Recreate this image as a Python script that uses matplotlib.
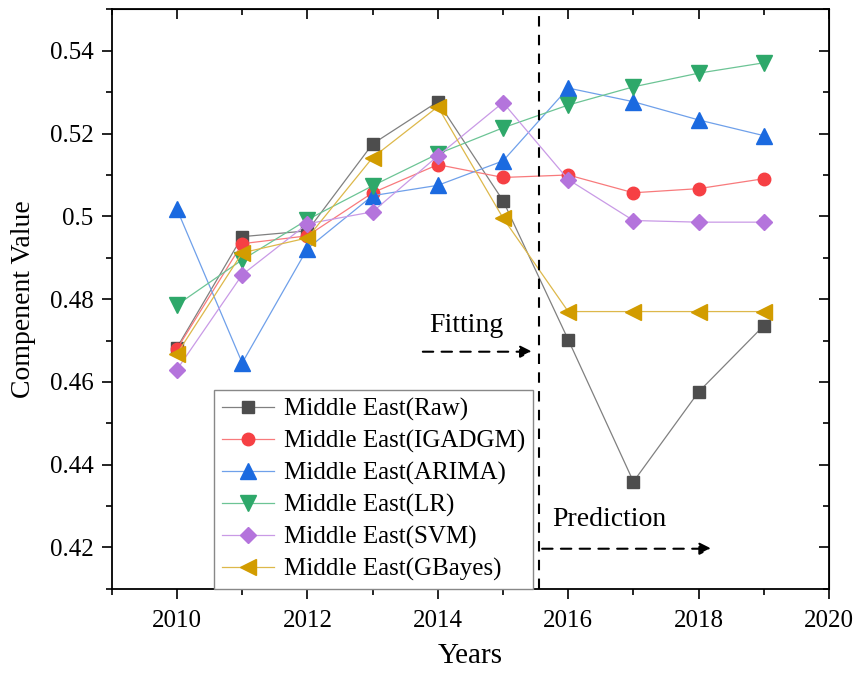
import matplotlib.pyplot as plt
from matplotlib.ticker import MultipleLocator

plt.rcParams['font.family'] = ['Liberation Serif', 'DejaVu Serif']
plt.rcParams['mathtext.fontset'] = 'stix'

years = [2010, 2011, 2012, 2013, 2014, 2015, 2016, 2017, 2018, 2019]

raw = [0.4683, 0.4951, 0.4965, 0.5175, 0.5277, 0.5038, 0.4702, 0.4359, 0.4576, 0.4736]
igadgm = [0.4680, 0.4934, 0.4953, 0.5057, 0.5125, 0.5094, 0.5100, 0.5057, 0.5067, 0.5091]
arima = [0.5017, 0.4646, 0.4922, 0.5050, 0.5075, 0.5134, 0.5310, 0.5277, 0.5233, 0.5195]
lr = [0.4786, 0.4895, 0.4992, 0.5074, 0.5151, 0.5214, 0.5269, 0.5313, 0.5346, 0.5371]
svm = [0.4630, 0.4859, 0.4982, 0.5011, 0.5146, 0.5275, 0.5089, 0.4990, 0.4986, 0.4986]
gbayes = [0.4668, 0.4912, 0.4948, 0.5142, 0.5265, 0.4996, 0.4770, 0.4770, 0.4770, 0.4770]

series = [
    ("Middle East(Raw)", raw, 's', '#4d4d4d', '#808080'),
    ("Middle East(IGADGM)", igadgm, 'o', '#f64044', '#f87a7c'),
    ("Middle East(ARIMA)", arima, '^', '#1b6ae0', '#6fa0ea'),
    ("Middle East(LR)", lr, 'v', '#2ea86a', '#6cc495'),
    ("Middle East(SVM)", svm, 'D', '#b474dc', '#c99ae6'),
    ("Middle East(GBayes)", gbayes, '<', '#d29c00', '#ddb84a'),
]

split = 2015.55

fig = plt.figure(figsize=(8.6, 6.73), dpi=100)
ax = fig.add_axes([0.130, 0.125, 0.834, 0.861])

for name, vals, mk, mc, lc in series:
    ms = 9 if mk in ('s', 'o') else (8 if mk == 'D' else 11)
    ax.plot(years, vals, color=lc, lw=0.9, marker=mk, markersize=ms,
            markerfacecolor=mc, markeredgecolor=mc, label=name)

ax.axvline(split, color='black', ls=(0, (5, 4)), lw=1.5, zorder=5)

ax.text(2014.43, 0.4705, "Fitting", ha='center', va='bottom', fontsize=20)
ax.annotate("", xy=(2015.45, 0.4673), xytext=(2013.77, 0.4673),
            arrowprops=dict(arrowstyle='-|>', color='black', lw=1.5,
                            ls=(0, (5, 4)), mutation_scale=18, shrinkA=0, shrinkB=0))
ax.text(2016.63, 0.4237, "Prediction", ha='center', va='bottom', fontsize=20)
ax.annotate("", xy=(2018.2, 0.4197), xytext=(2015.6, 0.4197),
            arrowprops=dict(arrowstyle='-|>', color='black', lw=1.5,
                            ls=(0, (5, 4)), mutation_scale=18, shrinkA=0, shrinkB=0))

ax.set_xlim(2009, 2020)
ax.set_ylim(0.41, 0.55)
ax.xaxis.set_major_locator(MultipleLocator(2))
ax.xaxis.set_minor_locator(MultipleLocator(1))
ax.yaxis.set_minor_locator(MultipleLocator(0.01))
ax.set_yticks([0.42, 0.44, 0.46, 0.48, 0.5, 0.52, 0.54])
ax.set_yticklabels(['0.42', '0.44', '0.46', '0.48', '0.5', '0.52', '0.54'])
ax.tick_params(which='major', direction='out', length=7, width=1.2, labelsize=18)
ax.tick_params(which='minor', direction='out', length=4, width=1.2)
ax.tick_params(axis='x', which='major', pad=8)
ax.tick_params(axis='y', which='major', pad=6)
for s in ax.spines.values():
    s.set_linewidth(1.3)

top = ax.secondary_xaxis('top')
top.xaxis.set_major_locator(MultipleLocator(2))
top.xaxis.set_minor_locator(MultipleLocator(1))
top.tick_params(which='major', direction='in', length=7, width=1.2, labeltop=False)
top.tick_params(which='minor', direction='in', length=4, width=1.2)
right = ax.secondary_yaxis('right')
right.yaxis.set_major_locator(MultipleLocator(0.02))
right.yaxis.set_minor_locator(MultipleLocator(0.01))
right.tick_params(which='major', direction='in', length=7, width=1.2, labelright=False)
right.tick_params(which='minor', direction='in', length=4, width=1.2)

ax.set_xlabel("Years", fontsize=21, labelpad=8)
ax.set_ylabel("Compenent Value", fontsize=20, labelpad=10)

leg = ax.legend(loc='lower left', bbox_to_anchor=(0.143, 0.0), borderaxespad=0,
                fontsize=18, fancybox=False, edgecolor='#888888', framealpha=1,
                handlelength=2.1, labelspacing=0.36, borderpad=0.3, handletextpad=0.4)
leg.get_frame().set_linewidth(1.0)

fig.savefig("out.png", dpi=100)
